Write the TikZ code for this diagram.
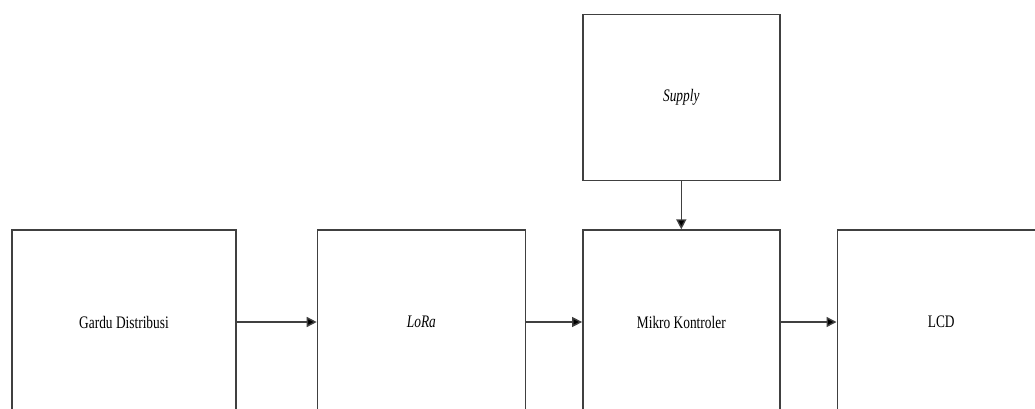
\documentclass[tikz,border=0pt]{standalone}
\usepackage{fontspec}
\setmainfont{Liberation Serif}[FakeStretch=0.76]
\usetikzlibrary{positioning, arrows.meta}

\definecolor{garis}{HTML}{404040}
\tikzset{
  blok/.style = {draw=garis, line width=1.4pt, minimum width=#1, minimum height=184pt,
                 inner sep=0pt, font=\fontsize{17.6}{20}\selectfont},
  blok/.default = 197pt,
}

\begin{document}
\begin{tikzpicture}[x=1pt, y=1pt, >={Triangle[length=10pt, width=10pt]}, node distance=56pt]
  \path[use as bounding box, clip] (0,0) rectangle (1035,408);

  \node[blok=224pt] (gardu) at (124,86) {Gardu Distribusi};
  \node[blok=208pt] (lora) [right = 80pt of gardu] {\textit{LoRa}};
  \node[blok] (mikro) [right = of lora] {Mikro Kontroler};
  \node[blok=208pt] (lcd) [right = of mikro] {LCD};
  \node[blok, minimum height=166pt] (supply) [above = 48pt of mikro] {\textit{Supply}};

  \path[->, draw=garis, line width=1.4pt]
    (gardu) edge (lora)
    (lora) edge (mikro)
    (mikro) edge (lcd)
    (supply) edge (mikro)
  ;
\end{tikzpicture}
\end{document}
